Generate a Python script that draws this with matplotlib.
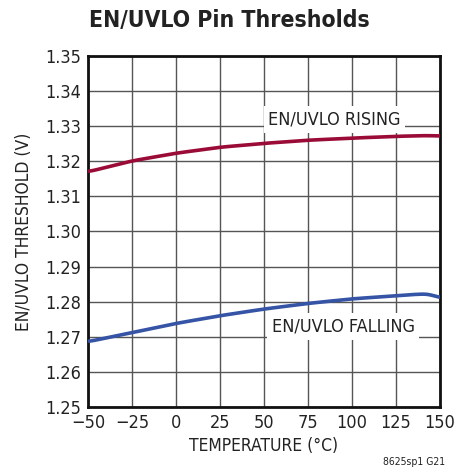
import matplotlib
matplotlib.use('Agg')
import matplotlib.pyplot as plt
import numpy as np

plt.rcParams['font.family'] = ['DejaVu Sans']
plt.rcParams['font.stretch'] = 'condensed'

# data
temp = [-50, -25, 0, 25, 50, 75, 100, 125, 140, 145, 150]
rising = [1.3170, 1.3201, 1.3223, 1.3240, 1.3251, 1.3260, 1.3266, 1.3271, 1.3273, 1.3273, 1.3272]
falling = [1.2686, 1.2712, 1.2738, 1.2760, 1.2779, 1.2795, 1.2808, 1.2817, 1.2822, 1.2821, 1.2810]

x_ticks = [-50, -25, 0, 25, 50, 75, 100, 125, 150]
x_labels = ['\u221250', '\u221225', '0', '25', '50', '75', '100', '125', '150']
y_ticks = [1.25, 1.26, 1.27, 1.28, 1.29, 1.30, 1.31, 1.32, 1.33, 1.34, 1.35]

fig = plt.figure(figsize=(4.71, 4.74), dpi=100)
ax = fig.add_axes([0.1868, 0.1414, 0.7473, 0.7405])

# smooth the read points a little for drawing
t_fine = np.linspace(-50, 150, 200)
rise_fine = np.interp(t_fine, temp, rising)
fall_fine = np.interp(t_fine, temp, falling)
k = np.ones(9) / 9
def smooth(y):
    yp = np.concatenate([np.full(4, y[0]), y, np.full(4, y[-1])])
    return np.convolve(yp, k, mode='valid')
ax.plot(t_fine, smooth(rise_fine), color='#9a0c37', lw=2.6, solid_capstyle='butt', zorder=3)
ax.plot(t_fine, smooth(fall_fine), color='#3554a5', lw=2.6, solid_capstyle='butt', zorder=3)

ax.set_xlim(-50, 150)
ax.set_ylim(1.25, 1.35)
ax.set_xticks(x_ticks)
ax.set_xticklabels(x_labels)
ax.set_yticks(y_ticks)
ax.set_yticklabels(['%.2f' % v for v in y_ticks])
ax.tick_params(length=0, labelsize=13, pad=5, colors='#222222')
ax.grid(True, color='#555555', lw=1.0)
for s in ax.spines.values():
    s.set_linewidth(2)
    s.set_color('#111111')

ax.set_xlabel('TEMPERATURE (\u00b0C)', fontsize=12.5, color='#222222', labelpad=4)
ax.set_ylabel('EN/UVLO THRESHOLD (V)', fontsize=12.5, color='#222222', labelpad=9)

ax.text(90, 1.3318, 'EN/UVLO RISING', fontsize=13, color='#222222', ha='center', va='center',
        bbox=dict(facecolor='white', edgecolor='none', boxstyle='square,pad=0.25'), zorder=4)
ax.text(95, 1.2729, 'EN/UVLO FALLING', fontsize=13, color='#222222', ha='center', va='center',
        bbox=dict(facecolor='white', edgecolor='none', boxstyle='square,pad=0.25'), zorder=4)

fig.text(0.19, 0.956, 'EN/UVLO Pin Thresholds', fontsize=16.5, fontweight='bold',
         color='#222222', ha='left', va='center')
fig.text(0.945, 0.015, '8625sp1 G21', fontsize=7.5, color='#222222', ha='right', va='bottom')

fig.savefig('out.png', dpi=100, facecolor='white')
